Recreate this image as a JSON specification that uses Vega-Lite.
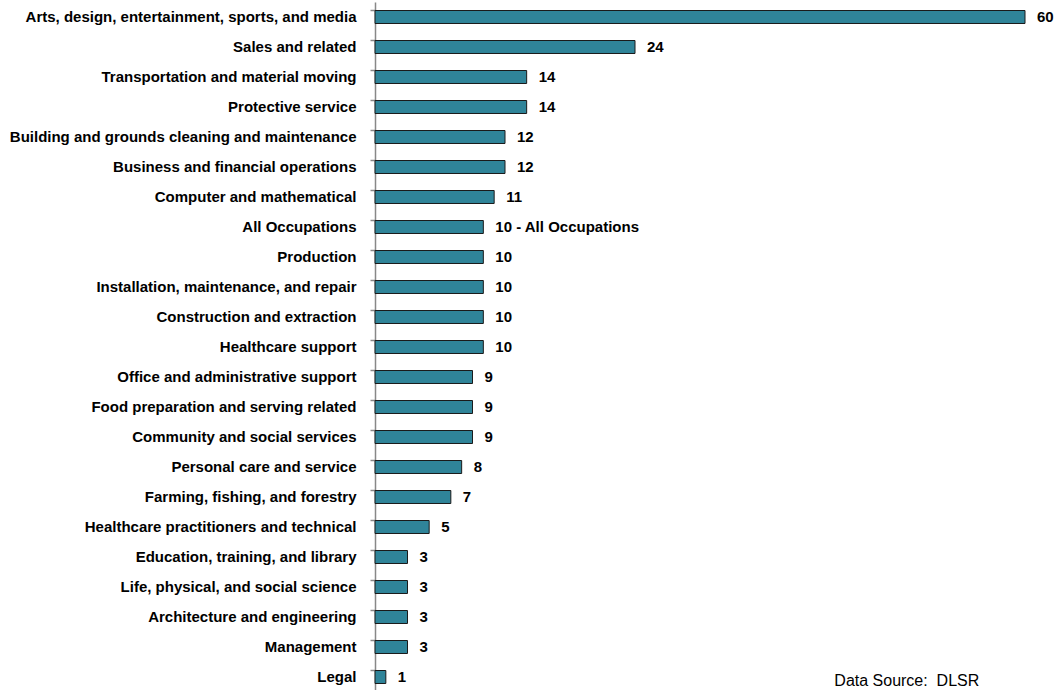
{
  "$schema": "https://vega.github.io/schema/vega-lite/v6.json",
  "width": 650,
  "height": 690,
  "autosize": "none",
  "padding": {"left": 375, "top": 2, "right": 30, "bottom": 0},
  "background": "white",
  "config": {"view": {"stroke": null}, "font": "Liberation Sans"},
  "data": {"values": [
    {"occupation": "Arts, design, entertainment, sports, and media", "value": 60, "label": "60"},
    {"occupation": "Sales and related", "value": 24, "label": "24"},
    {"occupation": "Transportation and material moving", "value": 14, "label": "14"},
    {"occupation": "Protective service", "value": 14, "label": "14"},
    {"occupation": "Building and grounds cleaning and maintenance", "value": 12, "label": "12"},
    {"occupation": "Business and financial operations", "value": 12, "label": "12"},
    {"occupation": "Computer and mathematical", "value": 11, "label": "11"},
    {"occupation": "All Occupations", "value": 10, "label": "10 - All Occupations"},
    {"occupation": "Production", "value": 10, "label": "10"},
    {"occupation": "Installation, maintenance, and repair", "value": 10, "label": "10"},
    {"occupation": "Construction and extraction", "value": 10, "label": "10"},
    {"occupation": "Healthcare support", "value": 10, "label": "10"},
    {"occupation": "Office and administrative support", "value": 9, "label": "9"},
    {"occupation": "Food preparation and serving related", "value": 9, "label": "9"},
    {"occupation": "Community and social services", "value": 9, "label": "9"},
    {"occupation": "Personal care and service", "value": 8, "label": "8"},
    {"occupation": "Farming, fishing, and forestry", "value": 7, "label": "7"},
    {"occupation": "Healthcare practitioners and technical", "value": 5, "label": "5"},
    {"occupation": "Education, training, and library", "value": 3, "label": "3"},
    {"occupation": "Life, physical, and social science", "value": 3, "label": "3"},
    {"occupation": "Architecture and engineering", "value": 3, "label": "3"},
    {"occupation": "Management", "value": 3, "label": "3"},
    {"occupation": "Legal", "value": 1, "label": "1"}
  ]},
  "encoding": {
    "y": {
      "field": "occupation", "type": "nominal", "sort": null, "title": null,
      "scale": {"paddingInner": 0.567},
      "axis": {
        "domainColor": "#888888", "domainWidth": 1.5, "tickColor": "#888888", "tickWidth": 1.5, "tickSize": 5,
        "bandPosition": 0, "labelFontWeight": "bold", "labelFontSize": 15, "labelColor": "black",
        "labelPadding": 14, "labelLimit": 400, "labelFont": "Liberation Sans"
      }
    },
    "x": {"field": "value", "type": "quantitative", "scale": {"domain": [0, 60]}, "axis": null}
  },
  "layer": [
    {"mark": {"type": "bar", "color": "#2F8499", "stroke": "#1a1a1a", "strokeWidth": 1}},
    {"mark": {"type": "text", "align": "left", "baseline": "middle", "dx": 12, "fontWeight": "bold", "fontSize": 15, "color": "black"},
     "encoding": {"text": {"field": "label"}}},
    {"data": {"values": [{"note": "Data Source:\u00a0 DLSR", "xpos": 42.4, "row": "Legal"}]},
     "mark": {"type": "text", "align": "left", "baseline": "middle", "dy": 4, "fontSize": 16, "fontWeight": "normal", "color": "black"},
     "encoding": {"x": {"field": "xpos", "type": "quantitative"}, "y": {"field": "row", "type": "nominal"}, "text": {"field": "note"}}}
  ]
}
